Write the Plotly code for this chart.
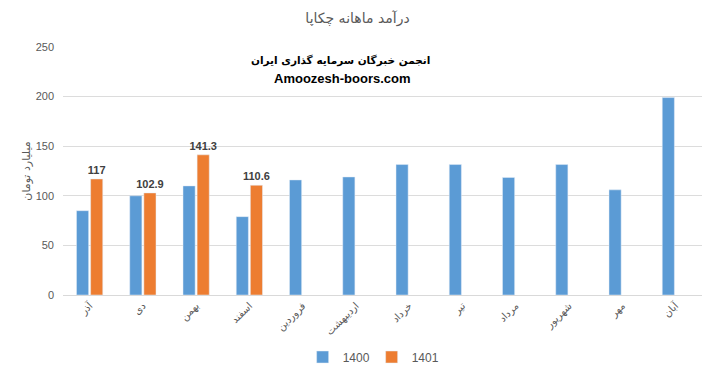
import plotly.graph_objects as go

months = ["آذر", "دی", "بهمن", "اسفند", "فروردین", "اردیبهشت",
          "خرداد", "تیر", "مرداد", "شهریور", "مهر", "آبان"]
values_1400 = [85, 100, 110, 79, 116, 119, 131.5, 131.5, 118.5, 131.5, 106, 199]
values_1401 = [117, 102.9, 141.3, 110.6, None, None, None, None, None, None, None, None]
labels_1401 = ["117", "102.9", "141.3", "110.6", "", "", "", "", "", "", "", ""]

FONT = "Liberation Sans, DejaVu Sans, sans-serif"
GREY = "#595959"

fig = go.Figure()
fig.add_trace(go.Bar(name="1400", x=months, y=values_1400, marker_color="#5B9BD5",
                     hoverinfo="x+y"))
fig.add_trace(go.Bar(name="1401", x=months, y=values_1401, marker_color="#ED7D31",
                     text=labels_1401, textposition="outside", cliponaxis=False,
                     constraintext="none",
                     textfont=dict(family=FONT, size=11, color="#404040", weight="bold")))

# page body has an 8px default margin, so the figure is sized/offset to compensate
fig.update_layout(
    width=699, height=362,
    margin=dict(l=55, r=5, t=39, b=75, autoexpand=False),
    paper_bgcolor="white", plot_bgcolor="white",
    barmode="group", bargap=0.47, bargroupgap=0.14,
    font=dict(family=FONT, color=GREY),
    title=dict(text="درآمد ماهانه چکاپا", x=0.5, xanchor="center", y=0.972, yanchor="middle",
               font=dict(family="DejaVu Sans, sans-serif", size=14, color=GREY)),
    showlegend=True,
    legend=dict(orientation="h", x=0.483, xanchor="center", y=-0.25, yanchor="middle",
                font=dict(size=12, color=GREY), traceorder="normal",
                itemwidth=30, entrywidth=24, entrywidthmode="pixels"),
    xaxis=dict(tickangle=-45, showgrid=False, showline=True, linecolor="#D9D9D9",
               tickfont=dict(family="DejaVu Sans, sans-serif", size=10, color=GREY),
               ticks="", automargin=False),
    yaxis=dict(range=[0, 250], dtick=50, showgrid=True, gridcolor="#DCDCDC", gridwidth=1,
               zeroline=False, tickfont=dict(size=11, color=GREY), ticks="",
               ticklabelstandoff=8, automargin=False,
               title=dict(text="میلیارد تومان", standoff=2,
                          font=dict(family="DejaVu Sans, sans-serif", size=11, color=GREY))),
    annotations=[
        dict(text="<b>انجمن خبرگان سرمایه گذاری ایران</b>", xref="paper", yref="paper",
             x=0.4335, y=0.947, xanchor="center", yanchor="middle", showarrow=False,
             font=dict(family="DejaVu Sans, sans-serif", size=10.5, color="black")),
        dict(text="<b>Amoozesh-boors.com</b>", xref="paper", yref="paper",
             x=0.437, y=0.874, xanchor="center", yanchor="middle", showarrow=False,
             font=dict(family=FONT, size=13, color="black")),
    ],
)

fig.write_html("out.html")
